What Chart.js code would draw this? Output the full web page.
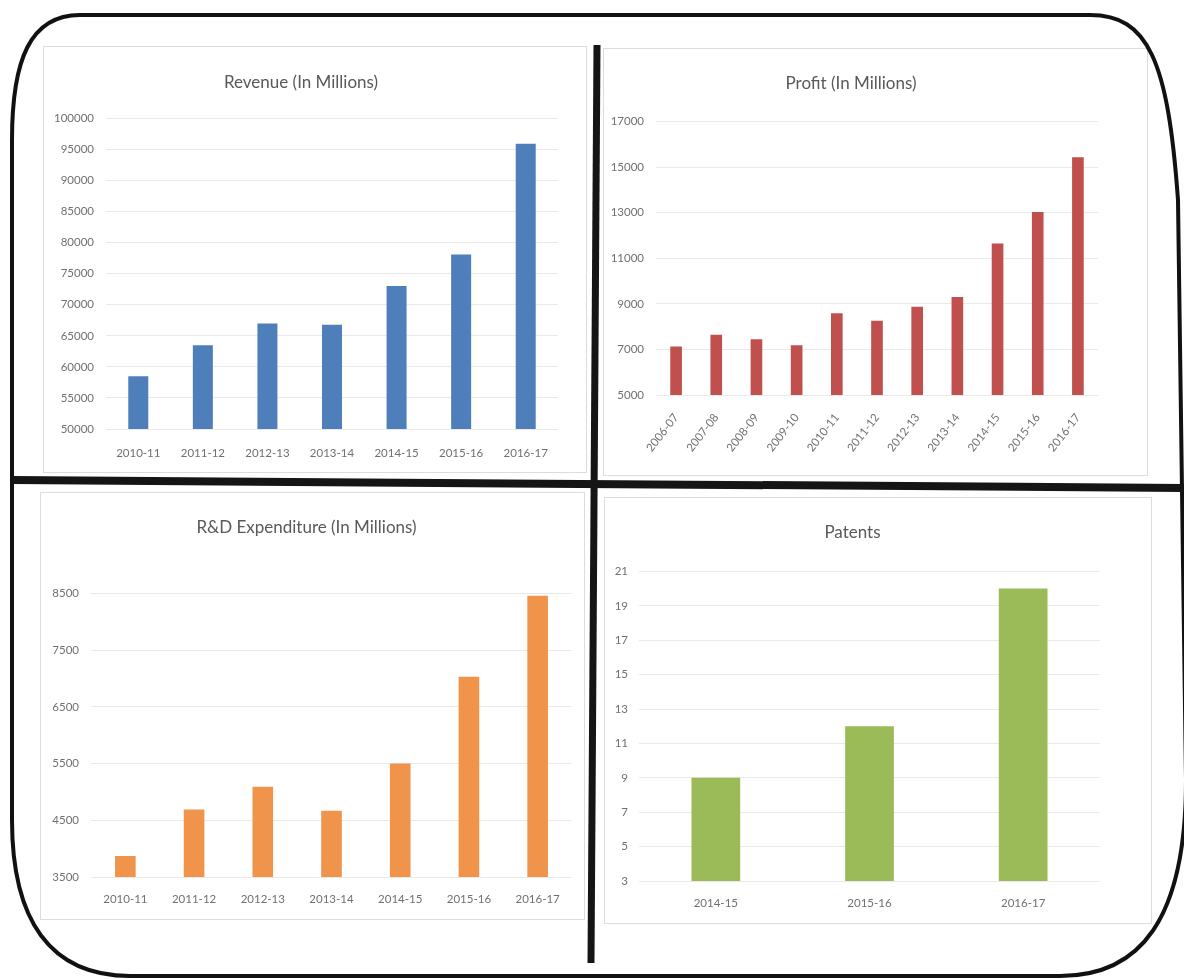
<!DOCTYPE html>
<html>
<head>
<meta charset="utf-8">
<script src="https://cdn.jsdelivr.net/npm/chart.js@4.4.1/dist/chart.umd.min.js"></script>
<style>
  html, body { margin: 0; padding: 0; background: #fff; }
  body { width: 1184px; height: 979px; position: relative; overflow: hidden; }
  .panel { position: absolute; border: 1px solid #dcdcdc; background: #fff; box-sizing: border-box; }
  .panel canvas { position: absolute; left: 0; top: 0; }
  #frame { position: absolute; left: 0; top: 0; pointer-events: none; }
</style>
</head>
<body>

<div class="panel" style="left:43px; top:46px; width:544px; height:427px;"><canvas id="revenue" width="544" height="427"></canvas></div>
<div class="panel" style="left:603px; top:48px; width:545px; height:428px;"><canvas id="profit" width="545" height="428"></canvas></div>
<div class="panel" style="left:40px; top:492px; width:545px; height:428px;"><canvas id="rnd" width="545" height="428"></canvas></div>
<div class="panel" style="left:604px; top:497px; width:548px; height:427px;"><canvas id="patents" width="548" height="427"></canvas></div>

<svg id="frame" width="1184" height="979">
  <path d="M80,15 L1090,15 C1148,15 1168,60 1178,200 L1186,780 C1186,920 1140,976 1060,976 L130,976 C50,976 12,920 12,820 L12,140 C12,60 30,15 80,15 Z"
        fill="none" stroke="#111" stroke-width="4"/>
  <line x1="12" y1="480" x2="1184" y2="488" stroke="#151515" stroke-width="8"/>
  <line x1="597" y1="45" x2="591" y2="963" stroke="#151515" stroke-width="7"/>
</svg>

<script>
const revenueYears = ['2010-11', '2011-12', '2012-13', '2013-14', '2014-15', '2015-16', '2016-17'];
const revenueValues = [58500, 63500, 67000, 66800, 73000, 78100, 95900];

const profitYears = ['2006-07', '2007-08', '2008-09', '2009-10', '2010-11', '2011-12', '2012-13', '2013-14', '2014-15', '2015-16', '2016-17'];
const profitValues = [7130, 7640, 7450, 7180, 8590, 8260, 8870, 9300, 11650, 13030, 15430];

const rndYears = ['2010-11', '2011-12', '2012-13', '2013-14', '2014-15', '2015-16', '2016-17'];
const rndValues = [3870, 4690, 5090, 4670, 5500, 7030, 8460];

const patentYears = ['2014-15', '2015-16', '2016-17'];
const patentValues = [9, 12, 20];

const FONT = 'Lato, "Open Sans", sans-serif';
const TEXT = '#707070';
const GRID = '#e9e9e9';

// one bar chart per panel; box sizes are pinned so the plot areas line up
function barChart(id, cfg) {
  return new Chart(document.getElementById(id), {
    type: 'bar',
    data: {
      labels: cfg.labels,
      datasets: [{
        data: cfg.values,
        backgroundColor: cfg.color,
        barPercentage: cfg.barPct,
        categoryPercentage: 1
      }]
    },
    options: {
      responsive: false,
      animation: false,
      layout: { padding: { left: 0, right: cfg.right, top: 0, bottom: 0 } },
      plugins: {
        legend: { display: false },
        tooltip: { enabled: false },
        title: {
          display: true,
          text: cfg.title,
          color: '#595959',
          font: { family: FONT, size: 17, weight: 'normal' },
          padding: { top: cfg.titleTop, bottom: cfg.titleBottom }
        }
      },
      scales: {
        x: {
          grid: { display: false, drawTicks: false },
          border: { display: false },
          ticks: {
            color: TEXT,
            font: { family: FONT, size: 11.5 },
            padding: cfg.xPad,
            autoSkip: false,
            minRotation: cfg.rotate || 0,
            maxRotation: cfg.rotate || 0
          },
          afterFit: (s) => { s.height = cfg.xHeight; }
        },
        y: {
          min: cfg.min,
          max: cfg.max,
          grid: { color: GRID, drawTicks: false },
          border: { display: false },
          ticks: {
            stepSize: cfg.step,
            color: TEXT,
            font: { family: FONT, size: 11.5 },
            padding: cfg.yPad,
            callback: (v) => String(v)
          },
          afterFit: (s) => { s.width = cfg.yWidth; }
        }
      }
    }
  });
}

barChart('revenue', {
  labels: revenueYears, values: revenueValues, color: '#4F7FBB',
  title: 'Revenue (In Millions)', min: 50000, max: 100000, step: 5000,
  barPct: 0.31, right: 30, yWidth: 62, xHeight: 45, titleTop: 25, titleBottom: 26,
  yPad: 12, xPad: 17
});

barChart('profit', {
  labels: profitYears, values: profitValues, color: '#C0504D',
  title: 'Profit (In Millions)', min: 5000, max: 17000, step: 2000,
  barPct: 0.29, right: 51, yWidth: 52, xHeight: 82, titleTop: 24, titleBottom: 28,
  yPad: 12, xPad: 16, rotate: 52
});

barChart('rnd', {
  labels: rndYears, values: rndValues, color: '#F0944B',
  title: 'R&D Expenditure (In Millions)', min: 3500, max: 8500, step: 1000,
  barPct: 0.30, right: 14, yWidth: 50, xHeight: 44, titleTop: 24, titleBottom: 56,
  yPad: 12, xPad: 15
});

barChart('patents', {
  labels: patentYears, values: patentValues, color: '#9BBB59',
  title: 'Patents', min: 3, max: 21, step: 2,
  barPct: 0.317, right: 53, yWidth: 34, xHeight: 44, titleTop: 24, titleBottom: 29,
  yPad: 11, xPad: 15
});
</script>
</body>
</html>
